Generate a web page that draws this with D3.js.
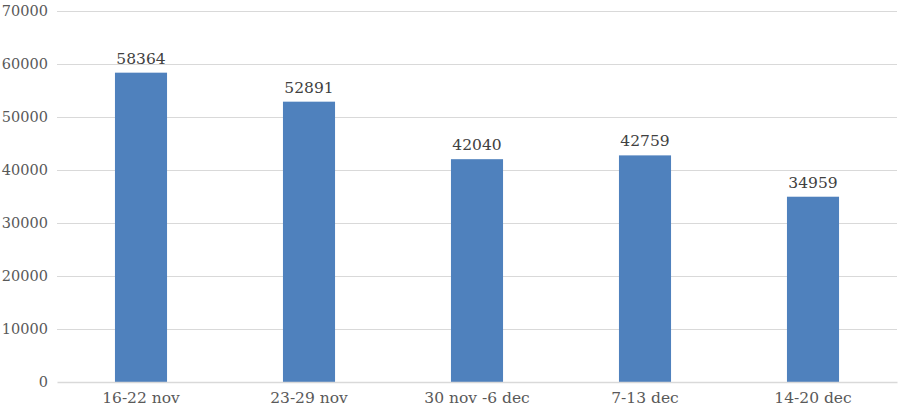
<!DOCTYPE html>
<html>
<head>
<meta charset="utf-8">
<script src="https://cdn.jsdelivr.net/npm/d3@7"></script>
<style>
  body { margin: 0; background: #fff; }
  text { font-family: "DejaVu Serif", "Liberation Serif", serif; }
</style>
</head>
<body>
<div id="chart"></div>
<script>
// data
const weeks = ["16-22 nov", "23-29 nov", "30 nov -6 dec", "7-13 dec", "14-20 dec"]
const counts = [58364, 52891, 42040, 42759, 34959]
const yTicks = [0, 10000, 20000, 30000, 40000, 50000, 60000, 70000]

const w = 899
const h = 409
const margin = {top: 11, right: 2, bottom: 27, left: 57}
const innerW = w - margin.left - margin.right
const innerH = h - margin.top - margin.bottom

const svg = d3.select("#chart").append("svg")
    .attr("width", w)
    .attr("height", h)

const g = svg.append("g")
    .attr("transform", `translate(${margin.left},${margin.top})`)

const x = d3.scaleBand()
    .domain(weeks)
    .range([0, innerW])
    .paddingInner(0.69)
    .paddingOuter(0.345)

const y = d3.scaleLinear()
    .domain([0, 70000])
    .range([innerH, 0])

// gridlines
g.selectAll(".grid")
    .data(yTicks.slice(1))
    .enter().append("line")
    .attr("x1", 0)
    .attr("x2", innerW)
    .attr("y1", d => Math.round(y(d)) + 0.5)
    .attr("y2", d => Math.round(y(d)) + 0.5)
    .attr("stroke", "#d9d9d9")

// y axis labels
const yAxis = g.append("g")
    .call(d3.axisLeft(y).tickValues(yTicks).tickFormat(d3.format("d")).tickSize(0).tickPadding(9))
yAxis.select(".domain").remove()
yAxis.selectAll("text")
    .attr("fill", "#595959")
    .style("font-size", "14.5px")

// bars
g.selectAll(".bar")
    .data(counts)
    .enter().append("rect")
    .attr("class", "bar")
    .attr("x", (d, i) => x(weeks[i]))
    .attr("y", d => y(d))
    .attr("width", x.bandwidth())
    .attr("height", d => innerH - y(d))
    .attr("fill", "#4f81bd")

// value labels
g.selectAll(".lbl")
    .data(counts)
    .enter().append("text")
    .attr("x", (d, i) => x(weeks[i]) + x.bandwidth() / 2)
    .attr("y", d => y(d) - 9)
    .attr("text-anchor", "middle")
    .attr("fill", "#404040")
    .style("font-size", "15.5px")
    .text(d => d)

// x axis
const xAxis = g.append("g")
    .attr("transform", `translate(0,${innerH})`)
    .call(d3.axisBottom(x).tickSize(0).tickPadding(10))
xAxis.select(".domain")
    .attr("stroke", "#d9d9d9")
    .attr("stroke-width", 1.5)
xAxis.selectAll("text")
    .attr("fill", "#595959")
    .style("font-size", "15.5px")
</script>
</body>
</html>
